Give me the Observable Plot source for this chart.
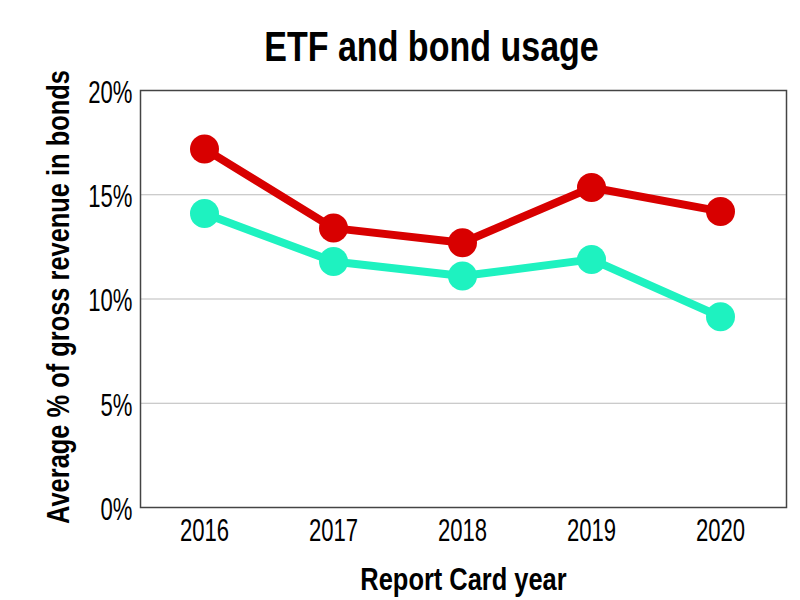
<!DOCTYPE html>
<html>
<head>
<meta charset="utf-8">
<script src="https://cdn.jsdelivr.net/npm/d3@7"></script>
<script src="https://cdn.jsdelivr.net/npm/@observablehq/plot@0.6"></script>
<style>
  html, body { margin: 0; padding: 0; background: #fff; }
  #title {
    position: relative; z-index: 2;
    width: 800px; height: 60px; box-sizing: border-box; padding-top: 26px;
    text-align: center; font-family: "Liberation Sans", Arial, sans-serif;
    font-weight: bold; font-size: 42px; line-height: 42px; color: #000;
    overflow: visible; white-space: nowrap;
  }
  #title span { display: inline-block; transform: translateX(32px) scaleX(0.81); transform-origin: center; }
  #chart svg { background: transparent !important; overflow: visible; }
</style>
</head>
<body>
<div id="title"><span>ETF and bond usage</span></div>
<div id="chart"></div>
<script>
const years = ["2016", "2017", "2018", "2019", "2020"];
const redSeries = [17.2, 13.4, 12.7, 15.35, 14.2];
const tealSeries = [14.1, 11.8, 11.1, 11.9, 9.15];
const yTicks = [0, 5, 10, 15, 20];
const yLabel = "Average % of gross revenue in bonds";
const xLabel = "Report Card year";

const red = "#d80000";
const teal = "#1ef2c0";

const rows = [
  ...years.map((y, i) => ({year: y, value: redSeries[i], series: "red"})),
  ...years.map((y, i) => ({year: y, value: tealSeries[i], series: "teal"}))
];
const redRows = rows.filter(d => d.series === "red");
const tealRows = rows.filter(d => d.series === "teal");

const chart = Plot.plot({
  width: 800,
  height: 540,
  marginTop: 30,
  marginBottom: 93,
  marginLeft: 140,
  marginRight: 14,
  style: {fontFamily: "'Liberation Sans', Arial, sans-serif", fontSize: "32px", color: "#000", background: "transparent", overflow: "visible"},
  x: {type: "point", domain: years, padding: 0.49, align: 0.49},
  y: {domain: [0, 20]},
  marks: [
    Plot.ruleY(yTicks.filter(t => t > 0 && t < 20), {stroke: "#bbb", strokeWidth: 1}),
    Plot.frame({stroke: "#444", strokeWidth: 1.5}),
    Plot.axisY({ticks: yTicks, tickSize: 0, tickPadding: 8, dy: 2, tickFormat: d => d + "%", label: null, fontSize: 32}),
    Plot.axisX({tickSize: 0, tickPadding: 11, label: null, fontSize: 32}),
    Plot.line(tealRows, {x: "year", y: "value", stroke: teal, strokeWidth: 8}),
    Plot.line(redRows, {x: "year", y: "value", stroke: red, strokeWidth: 8}),
    Plot.dot(tealRows, {x: "year", y: "value", r: 14.5, fill: teal}),
    Plot.dot(redRows, {x: "year", y: "value", r: 14.5, fill: red}),
    Plot.text([yLabel], {frameAnchor: "left", dx: -72, dy: -2, rotate: -90, lineAnchor: "bottom", textAnchor: "middle", fontSize: 31, fontWeight: "bold", fill: "#000"}),
    Plot.text([xLabel], {frameAnchor: "bottom", dy: 82, lineAnchor: "bottom", textAnchor: "middle", fontSize: 31, fontWeight: "bold", fill: "#000"})
  ]
});
document.getElementById("chart").appendChild(chart);

// condense glyphs horizontally (imitates the reference's condensed typeface)
d3.select(chart).selectAll("text").each(function() {
  const t = this.textContent;
  const s = (t === yLabel || t === xLabel) ? 0.82 : 0.69;
  const w = this.getComputedTextLength();
  if (w > 0) {
    this.setAttribute("textLength", (w * s).toFixed(2));
    this.setAttribute("lengthAdjust", "spacingAndGlyphs");
  }
});
</script>
</body>
</html>
